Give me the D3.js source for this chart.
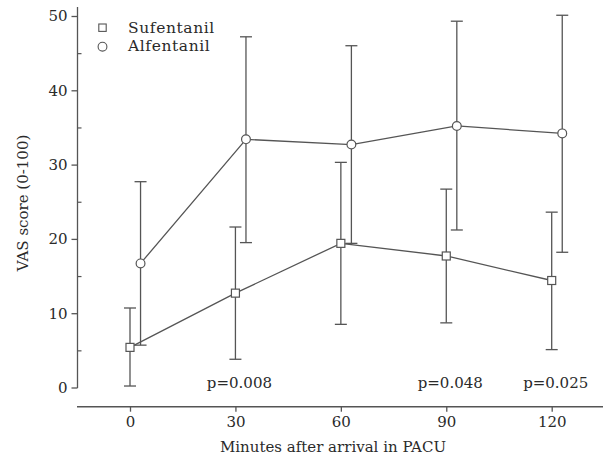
<!DOCTYPE html>
<html>
<head>
<meta charset="utf-8">
<script src="https://cdn.jsdelivr.net/npm/d3@7"></script>
<style>
  html, body { margin: 0; padding: 0; background: #fff; }
  svg { display: block; }
  text { font-family: "DejaVu Serif", serif; fill: #2a2a2a; }
</style>
</head>
<body>
<svg id="chart" width="603" height="456"></svg>
<script>
// ---- data ----
const minutes = [0, 30, 60, 90, 120];
const sufMean  = [5.4, 12.7, 19.4, 17.7, 14.4];
const sufUpper = [10.7, 21.6, 30.3, 26.7, 23.6];
const sufLower = [0.2, 3.8, 8.5, 8.7, 5.1];
const alfMean  = [16.7, 33.4, 32.7, 35.2, 34.2];
const alfUpper = [27.7, 47.2, 46.0, 49.3, 50.1];
const alfLower = [5.7, 19.5, 19.4, 21.2, 18.2];
const alfOffset = 3; // horizontal dodge (minutes) for the Alfentanil series
const yTicks = [0, 10, 20, 30, 40, 50];
const yMinorTicks = [5, 15, 25, 35, 45];
const xTicks = [0, 30, 60, 90, 120];
const pMinutes = [30, 90, 120];
const pLabels = ["p=0.008", "p=0.048", "p=0.025"];
const seriesNames = ["Sufentanil", "Alfentanil"];

// ---- layout ----
const svg = d3.select("#chart");
const ink = "#555";
const x = d3.scaleLinear().domain([0, 120]).range([130, 551.7]);
const y = d3.scaleLinear().domain([0, 50]).range([387.5, 16]);
const xAxisY = 406.7;
const yAxisX = 77.5;

// y axis
const gy = svg.append("g").attr("transform", `translate(${yAxisX},0)`);
gy.append("line").attr("x1", 0).attr("x2", 0).attr("y1", 7).attr("y2", y(0) + 0.5)
  .attr("stroke", ink).attr("stroke-width", 1.3);
const yAx = d3.axisLeft(y).tickValues(yTicks).tickSize(6).tickPadding(4).tickFormat(d3.format("d"));
gy.call(yAx);
gy.select(".domain").remove();
gy.selectAll(".tick line").attr("stroke", ink).attr("stroke-width", 1.3);
gy.selectAll(".tick text").style("font-family", "DejaVu Serif").style("font-size", "15px").attr("fill", "#2a2a2a");
const yMinor = d3.axisRight(y).tickValues(yMinorTicks).tickSize(4).tickFormat("");
const gym = gy.append("g").call(yMinor);
gym.select(".domain").remove();
gym.selectAll(".tick line").attr("stroke", ink).attr("stroke-width", 1.2);

// x axis
const gx = svg.append("g").attr("transform", `translate(0,${xAxisY})`);
gx.append("line").attr("x1", yAxisX - 0.5).attr("x2", 603).attr("y1", 0).attr("y2", 0)
  .attr("stroke", ink).attr("stroke-width", 1.5);
const xAx = d3.axisBottom(x).tickValues(xTicks).tickSize(5).tickPadding(5).tickFormat(d3.format("d"));
gx.call(xAx);
gx.select(".domain").remove();
gx.selectAll(".tick line").attr("stroke", ink).attr("stroke-width", 1.3);
gx.selectAll(".tick text").style("font-family", "DejaVu Serif").style("font-size", "15px").attr("fill", "#2a2a2a");

// axis titles
svg.append("text").attr("x", 333).attr("y", 452).attr("text-anchor", "middle")
  .style("font-size", "15px").text("Minutes after arrival in PACU");
svg.append("text").attr("transform", "translate(28,203) rotate(-90)").attr("text-anchor", "middle")
  .style("font-size", "15px").text("VAS score (0-100)");

// series
const sufData = minutes.map((m, i) => ({ x: m, mean: sufMean[i], hi: sufUpper[i], lo: sufLower[i] }));
const alfData = minutes.map((m, i) => ({ x: m + alfOffset, mean: alfMean[i], hi: alfUpper[i], lo: alfLower[i] }));

const capW = 6;
function errorBars(data) {
  const g = svg.append("g").attr("stroke", ink).attr("stroke-width", 1.3).attr("fill", "none");
  g.selectAll("line.v").data(data).join("line").attr("class", "v")
    .attr("x1", d => x(d.x)).attr("x2", d => x(d.x)).attr("y1", d => y(d.lo)).attr("y2", d => y(d.hi));
  g.selectAll("line.t").data(data).join("line").attr("class", "t")
    .attr("x1", d => x(d.x) - capW).attr("x2", d => x(d.x) + capW).attr("y1", d => y(d.hi)).attr("y2", d => y(d.hi));
  g.selectAll("line.b").data(data).join("line").attr("class", "b")
    .attr("x1", d => x(d.x) - capW).attr("x2", d => x(d.x) + capW).attr("y1", d => y(d.lo)).attr("y2", d => y(d.lo));
}
errorBars(sufData);
errorBars(alfData);

const line = d3.line().x(d => x(d.x)).y(d => y(d.mean));
svg.append("path").datum(sufData).attr("d", line).attr("fill", "none").attr("stroke", ink).attr("stroke-width", 1.3);
svg.append("path").datum(alfData).attr("d", line).attr("fill", "none").attr("stroke", ink).attr("stroke-width", 1.3);

const sq = 8;
svg.append("g").selectAll("rect").data(sufData).join("rect")
  .attr("x", d => x(d.x) - sq / 2).attr("y", d => y(d.mean) - sq / 2)
  .attr("width", sq).attr("height", sq)
  .attr("fill", "#fff").attr("stroke", ink).attr("stroke-width", 1.2);
svg.append("g").selectAll("circle").data(alfData).join("circle")
  .attr("cx", d => x(d.x)).attr("cy", d => y(d.mean)).attr("r", 4.4)
  .attr("fill", "#fff").attr("stroke", ink).attr("stroke-width", 1.2);

// p-values
svg.append("g").selectAll("text").data(pMinutes).join("text")
  .attr("x", (d) => x(d) + 4).attr("y", 388).attr("text-anchor", "middle")
  .style("font-size", "15px").text((d, i) => pLabels[i]);

// legend
const lg = svg.append("g");
lg.append("rect").attr("x", 102.5 - 3.7).attr("y", 27.7 - 3.7).attr("width", 7.4).attr("height", 7.4)
  .attr("fill", "#fff").attr("stroke", ink).attr("stroke-width", 1.1);
lg.append("circle").attr("cx", 102.5).attr("cy", 46.7).attr("r", 4.4)
  .attr("fill", "#fff").attr("stroke", ink).attr("stroke-width", 1.1);
lg.append("text").attr("x", 128).attr("y", 32.5).style("font-size", "15.5px").style("letter-spacing", "0.6px").text(seriesNames[0]);
lg.append("text").attr("x", 128).attr("y", 51).style("font-size", "15.5px").style("letter-spacing", "0.6px").text(seriesNames[1]);
</script>
</body>
</html>
